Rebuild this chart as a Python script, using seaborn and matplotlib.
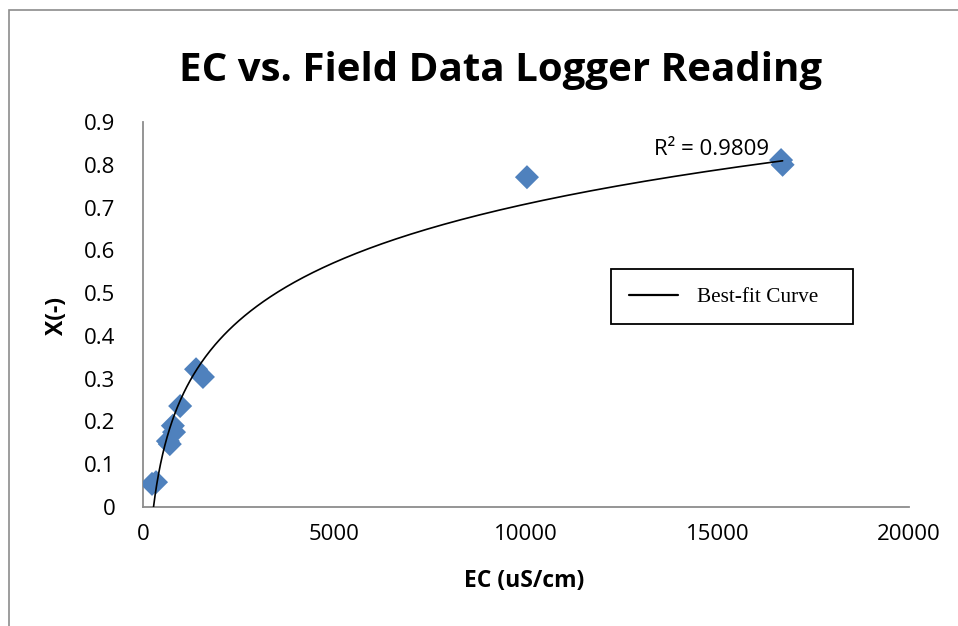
import numpy as np
import pandas as pd
import matplotlib
matplotlib.use("Agg")
import matplotlib.pyplot as plt
import seaborn as sns
from matplotlib.patches import Rectangle

# Data
ec_values = [235, 340, 650, 700, 780, 810, 970, 1385, 1565, 10025, 16660, 16700]
x_values = [0.054, 0.058, 0.154, 0.147, 0.190, 0.175, 0.236, 0.322, 0.304, 0.771, 0.811, 0.800]
x_ticks = [0, 5000, 10000, 15000, 20000]
y_ticks = [0, 0.1, 0.2, 0.3, 0.4, 0.5, 0.6, 0.7, 0.8, 0.9]
title = "EC vs. Field Data Logger Reading"
xlabel = "EC (uS/cm)"
ylabel = "X(-)"
r2_text = "R² = 0.9809"
legend_label = "Best-fit Curve"

sns.set_theme(style="white")
plt.rcParams['font.family'] = ['Open Sans', 'DejaVu Sans']
plt.rcParams['text.color'] = 'black'
plt.rcParams['axes.labelcolor'] = 'black'

df = pd.DataFrame({"EC": ec_values, "X": x_values})

# logarithmic best-fit (y = a ln x + b)
a, b = np.polyfit(np.log(df["EC"]), df["X"], 1)
xs = np.geomspace(df["EC"].min(), df["EC"].max(), 300)
fit = pd.DataFrame({"EC": xs, "X": a * np.log(xs) + b})

fig = plt.figure(figsize=(9.58, 6.26), dpi=100)
ax = fig.add_axes([143/958, 1-507/626, (909-143)/958, (507-122)/626])

sns.scatterplot(data=df, x="EC", y="X", marker="D", s=150, color="#4F81BD",
                edgecolor="none", ax=ax, zorder=3, legend=False)
sns.lineplot(data=fit, x="EC", y="X", color="black", linewidth=1.2, ax=ax,
             label=legend_label, zorder=4)

ax.set_xlim(0, 20000)
ax.set_ylim(0, 0.9)
ax.set_xticks(x_ticks)
ax.set_yticks(y_ticks)
ax.set_xticklabels([str(t) for t in x_ticks])
ax.set_yticklabels(["0" if t == 0 else f"{t:.1f}" for t in y_ticks])
ax.tick_params(axis="both", length=0, labelsize=16, colors="black")
ax.tick_params(axis="x", pad=12)
ax.tick_params(axis="y", pad=20)
for s in ["top", "right"]:
    ax.spines[s].set_visible(False)
for s in ["left", "bottom"]:
    ax.spines[s].set_color("#8c8c8c")
    ax.spines[s].set_linewidth(1.3)
ax.grid(False)

ax.set_xlabel(xlabel, fontsize=16.5, fontweight="bold", color="black")
ax.xaxis.set_label_coords(524/958, 1-581/626, transform=fig.transFigure)
ax.xaxis.label.set_va("center")
ax.set_ylabel(ylabel, fontsize=16.5, fontweight="bold", color="black")
ax.yaxis.set_label_coords(57/958, 1-316/626, transform=fig.transFigure)
ax.yaxis.label.set_va("center")

fig.text(501/958, 1-70/626, title, ha="center", va="center", fontsize=29,
         fontweight="bold", color="black")

ax.text(16350, 0.835, r2_text, fontsize=16, ha="right", va="center", color="black")

leg = ax.legend(loc="center left", bbox_to_anchor=(629/958, 1-297/626),
                bbox_transform=fig.transFigure, frameon=False,
                prop={"family": "Liberation Serif", "size": 15.3},
                handlelength=2.3, handletextpad=0.9, borderpad=0, borderaxespad=0)
for h in leg.get_lines():
    h.set_linewidth(1.6)
fig.patches.append(Rectangle((611/958, 1-324/626), (853-611)/958, (324-269)/626,
                             transform=fig.transFigure, fill=False,
                             edgecolor="black", linewidth=1.3))
fig.patches.append(Rectangle((8.5/958, -0.2), 1.5, 1.2 - 10/626,
                             transform=fig.transFigure, fill=False,
                             edgecolor="#8c8c8c", linewidth=1.2))

fig.savefig("out.png", dpi=100)
